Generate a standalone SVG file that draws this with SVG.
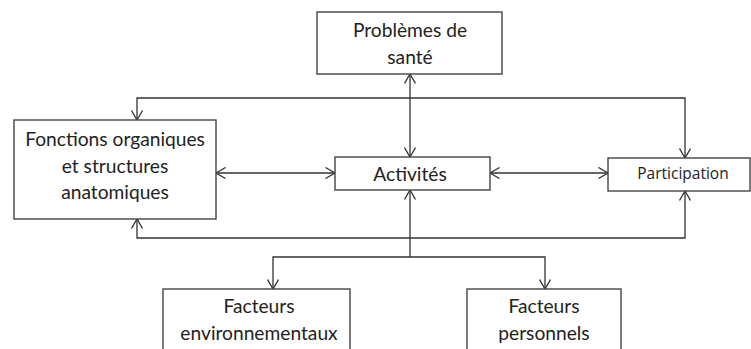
<svg xmlns="http://www.w3.org/2000/svg" width="751" height="349" viewBox="0 0 751 349">
<defs>
<marker id="arr" viewBox="0 0 10 12" refX="10" refY="6" markerWidth="10" markerHeight="12" markerUnits="userSpaceOnUse" orient="auto-start-reverse">
<path d="M0.5,0.5 L10,6 L0.5,11.5" fill="none" stroke="#333" stroke-width="1.3"/>
</marker>
<style>
.box{fill:#fff;stroke:#444;stroke-width:1.4}
.t{font-family:Lato,"Liberation Sans",sans-serif;font-size:19.2px;fill:#222;text-anchor:middle}
.tp{font-family:"Open Sans","DejaVu Sans",sans-serif;font-size:15.5px;fill:#222;text-anchor:middle}
.c{fill:none;stroke:#333;stroke-width:1.3}
</style>
</defs>
<rect width="751" height="349" fill="#fff"/>
<g id="connectors">
<path class="c" d="M410,74 L410,157" marker-start="url(#arr)" marker-end="url(#arr)"/>
<path class="c" d="M137,120 L137,98 L685,98 L685,158" marker-start="url(#arr)" marker-end="url(#arr)"/>
<path class="c" d="M137,219 L137,238 L685,238 L685,191" marker-start="url(#arr)" marker-end="url(#arr)"/>
<path class="c" d="M216,173 L335,173" marker-start="url(#arr)" marker-end="url(#arr)"/>
<path class="c" d="M490,173 L608,173" marker-start="url(#arr)" marker-end="url(#arr)"/>
<path class="c" d="M410,190 L410,257" marker-start="url(#arr)"/>
<path class="c" d="M410,257 L273,257 L273,289" marker-end="url(#arr)"/>
<path class="c" d="M410,257 L545,257 L545,289" marker-end="url(#arr)"/>
</g>
<g id="problemes">
<rect class="box" x="317" y="12" width="185" height="62"/>
<text class="t" x="410" y="37">Problèmes de</text>
<text class="t" x="410" y="64">santé</text>
</g>
<g id="fonctions">
<rect class="box" x="14" y="120" width="202" height="99"/>
<text class="t" x="115" y="146">Fonctions organiques</text>
<text class="t" x="115" y="173">et structures</text>
<text class="t" x="115" y="199">anatomiques</text>
</g>
<g id="activites">
<rect class="box" x="335" y="157" width="155" height="33"/>
<text class="t" x="410" y="181">Activités</text>
</g>
<g id="participation">
<rect class="box" x="608" y="158" width="142" height="33"/>
<text class="tp" x="683" y="179">Participation</text>
</g>
<g id="facteurs-env">
<rect class="box" x="163" y="289" width="187" height="70"/>
<text class="t" x="259" y="313">Facteurs</text>
<text class="t" x="259" y="340">environnementaux</text>
</g>
<g id="facteurs-pers">
<rect class="box" x="467" y="289" width="154" height="70"/>
<text class="t" x="544" y="313">Facteurs</text>
<text class="t" x="544" y="340">personnels</text>
</g>
</svg>
